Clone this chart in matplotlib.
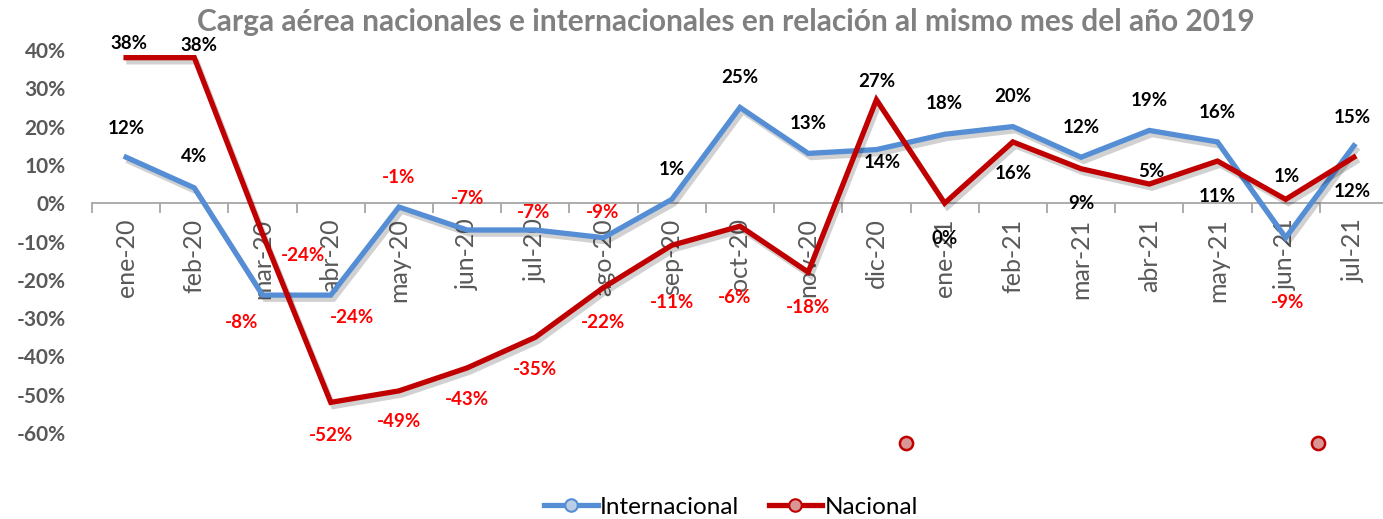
import matplotlib.pyplot as plt
import matplotlib.patheffects as pe
from matplotlib.lines import Line2D

# datos
meses = ['ene-20', 'feb-20', 'mar-20', 'abr-20', 'may-20', 'jun-20', 'jul-20',
         'ago-20', 'sep-20', 'oct-20', 'nov-20', 'dic-20', 'ene-21', 'feb-21',
         'mar-21', 'abr-21', 'may-21', 'jun-21', 'jul-21']
internacional = [12, 4, -24, -24, -1, -7, -7, -9, 1, 25, 13, 14, 18, 20, 12, 19, 16, -9, 15]
nacional = [38, 38, -8, -52, -49, -43, -35, -22, -11, -6, -18, 27, 0, 16, 9, 5, 11, 1, 12]
# marcadores sueltos que aparecen bajo el area del grafico
sueltos_x = [11.44, 17.48]
sueltos_y = [-62.7, -62.7]
yticks = [40, 30, 20, 10, 0, -10, -20, -30, -40, -50, -60]

# desplazamiento de etiquetas (pixeles)
off_int = [(0, 29), (0, 31), (40, 40), (21, -22), (0, 30), (0, 32), (-2, 18), (-1, 25),
           (0, 30), (0, 30), (0, 30), (6, -13), (0, 31), (0, 30), (0, 30), (0, 30),
           (0, 29), (2, -65), (-2, 28)]
off_nac = [(3, 14), (5, 12), (-21, -89), (0, -33), (0, -31), (0, -32), (0, -32), (-1, -35),
           (0, -57), (-5, -71), (0, -35), (0, 18), (0, -35), (0, -32), (0, -35), (2, 13),
           (0, -35), (1, 23), (-2, -34)]

azul = '#558ED5'
rojo = '#C00000'
gris = '#595959'
plt.rcParams['font.family'] = ['Lato', 'DejaVu Sans']

fig = plt.figure(figsize=(13.83, 5.19), dpi=100)
W, H = 1383, 519
ax = fig.add_axes([92 / W, (H - 433) / H, (1388 - 92) / W, (433 - 50) / H])

# eje x en el 0 (antes de configurar las marcas, porque las reinicia)
for s in ('left', 'right', 'top'):
    ax.spines[s].set_visible(False)
ax.spines['bottom'].set_position(('data', 0))
ax.spines['bottom'].set_color('#A6A6A6')
ax.spines['bottom'].set_linewidth(1.3)

x = list(range(len(meses)))
sombra = [pe.SimpleLineShadow(offset=(2, -3), shadow_color='black', alpha=0.18), pe.Normal()]
ax.plot(x, internacional, color=azul, lw=3.8, solid_joinstyle='miter', path_effects=sombra,
        clip_on=False, zorder=3)
ax.plot(x, nacional, color=rojo, lw=3.8, solid_joinstyle='miter', path_effects=sombra,
        clip_on=False, zorder=4)
ax.scatter(sueltos_x, sueltos_y, s=90, facecolor='#D99694', edgecolor=rojo, linewidth=1.8,
           clip_on=False, zorder=5)

for serie, offs in ((internacional, off_int), (nacional, off_nac)):
    for i, v in enumerate(serie):
        ax.annotate(f'{v}%', (i, v), xytext=offs[i], textcoords='offset pixels',
                    ha='center', va='center', fontsize=13.5, fontweight='bold',
                    color='#FF0000' if v < 0 else 'black', annotation_clip=False, zorder=6)

ax.set_xlim(-0.5, len(meses) - 0.5)
ax.set_ylim(-60, 40)
ax.set_yticks(yticks)
ax.set_yticklabels([f'{t}%' for t in yticks], fontsize=15, fontweight='bold', color=gris)
ax.tick_params(axis='y', length=0, pad=19)

ax.set_xticks(x)
ax.set_xticklabels(meses, rotation=90, fontsize=18, color=gris, va='top', ha='center')
ax.set_xticks([i - 0.5 for i in range(len(meses) + 1)], minor=True)
ax.tick_params(axis='x', which='major', length=0, pad=11)
ax.tick_params(axis='x', which='minor', length=7, width=1.3, color='#A6A6A6', direction='out')
ax.set_zorder(2)

fig.text(726 / W, 1 - 22 / H, 'Carga aérea nacionales e internacionales en relación al mismo mes del año 2019',
         ha='center', va='center', fontsize=21.5, fontweight='bold', color='#808080')

handles = [Line2D([], [], color=azul, lw=3.8, marker='o', markersize=9,
                  markerfacecolor='#B9CDE5', markeredgecolor=azul, markeredgewidth=1.5),
           Line2D([], [], color=rojo, lw=3.8, marker='o', markersize=9,
                  markerfacecolor='#D99694', markeredgecolor=rojo, markeredgewidth=1.5)]
fig.legend(handles, ['Internacional', 'Nacional'], loc='center', bbox_to_anchor=(731 / W, 1 - 507 / H),
           ncol=2, frameon=False, fontsize=17.5, handlelength=2.2, handletextpad=0.1, columnspacing=1.2)

fig.savefig('out.png', dpi=100)
